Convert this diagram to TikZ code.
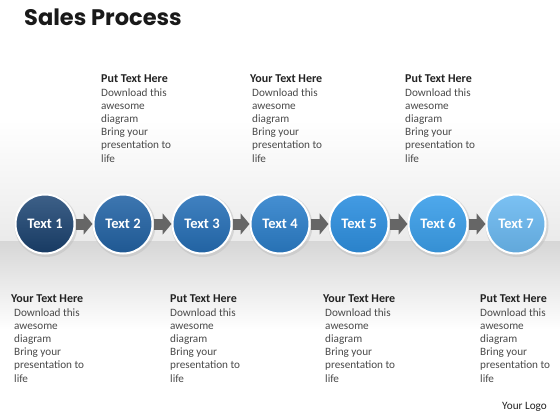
\documentclass[tikz,border=0pt]{standalone}
\usepackage{fontspec}
\setmainfont{Carlito}
\newfontfamily\titlefont{Poppins}
\usetikzlibrary{calc,arrows.meta}
\definecolor{cA}{HTML}{1B4473}
\definecolor{cB}{HTML}{2364A6}
\definecolor{cC}{HTML}{2670B8}
\definecolor{cD}{HTML}{2C80CC}
\definecolor{cE}{HTML}{2E90E0}
\definecolor{cF}{HTML}{3B9FEA}
\definecolor{cG}{HTML}{6CBAF2}
\definecolor{headc}{HTML}{222222}
\definecolor{bodyc}{HTML}{4A4A4A}
\tikzset{
  stepcircle/.style={circle, minimum size=59pt, inner sep=0pt, draw=white, line width=2pt,
     font=\fontsize{14.5}{14.5}\selectfont\bfseries, text=white},
  conn/.style={line width=11pt, draw=black!60, -{Triangle[length=9pt,width=21pt]}},
  textblock/.style={anchor=north west, align=left, inner sep=0pt, text=bodyc,
     font=\fontsize{11.2}{13.2}\selectfont},
}
\newcommand{\blocktext}[1]{{\color{headc}\bfseries\fontsize{12}{13.2}\selectfont #1}\\Download this\\awesome\\diagram\\Bring your\\presentation to\\life}
\begin{document}
\begin{tikzpicture}[x=1pt,y=-1pt]
\useasboundingbox (0,0) rectangle (560,420);
\fill[white] (0,0) rectangle (560,420);
\shade[top color=white, bottom color=black!8] (0,120) rectangle (560,241);
\shade[top color=black!16, bottom color=white] (0,241) rectangle (560,330);
\node[anchor=west, inner sep=0pt, font=\titlefont\bfseries\fontsize{22.5}{22.5}\selectfont, text=black!90] (title) at (24,17) {Sales Process};
% shadows
\foreach \x in {45,123,202,280,359,438,516}{
  \fill[black!25, opacity=0.5] (\x+1,225.5) circle (31.5pt);
}
\node[stepcircle, top color=cA!85!white, bottom color=cA!85!black] (c1) at (45,224) {Text 1};
\node[stepcircle, top color=cB!88!white, bottom color=cB!88!black] (c2) at (123,224) {Text 2};
\node[stepcircle, top color=cC!88!white, bottom color=cC!88!black] (c3) at (202,224) {Text 3};
\node[stepcircle, top color=cD!88!white, bottom color=cD!88!black] (c4) at (280,224) {Text 4};
\node[stepcircle, top color=cE!90!white, bottom color=cE!90!black] (c5) at (359,224) {Text 5};
\node[stepcircle, top color=cF!90!white, bottom color=cF!90!black] (c6) at (438,224) {Text 6};
\node[stepcircle, top color=cG!90!white, bottom color=cG!90!black] (c7) at (516,224) {Text 7};
\draw[conn] (c1.east) -- (c2.west);
\draw[conn] (c2.east) -- (c3.west);
\draw[conn] (c3.east) -- (c4.west);
\draw[conn] (c4.east) -- (c5.west);
\draw[conn] (c5.east) -- (c6.west);
\draw[conn] (c6.east) -- (c7.west);
% top blocks
\node[textblock] (t1) at (101,75) {\blocktext{Put Text Here}};
\node[textblock] (t2) at (252,75) {\blocktext{\hspace*{-2pt}Your Text Here}};
\node[textblock] (t3) at (405,75) {\blocktext{Put Text Here}};
% bottom blocks
\node[textblock] (b1) at (14,295) {\blocktext{\hspace*{-3pt}Your Text Here}};
\node[textblock] (b2) at (170,295) {\blocktext{Put Text Here}};
\node[textblock] (b3) at (325,295) {\blocktext{\hspace*{-2pt}Your Text Here}};
\node[textblock] (b4) at (480,295) {\blocktext{Put Text Here}};
\node[anchor=east, inner sep=0pt, text=headc, font=\fontsize{11.2}{13}\selectfont] (logo) at (547,407) {Your Logo};
\end{tikzpicture}
\end{document}
